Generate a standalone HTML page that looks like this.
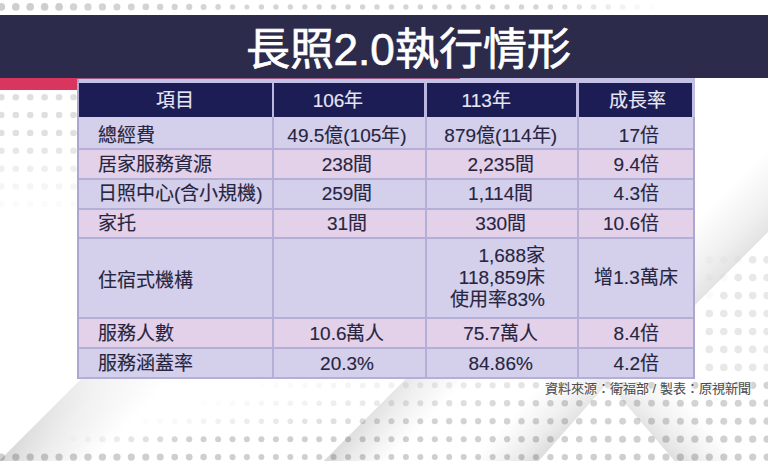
<!DOCTYPE html>
<html lang="zh-TW">
<head>
<meta charset="utf-8">
<style>
html,body{margin:0;padding:0;}
body{width:768px;height:461px;position:relative;overflow:hidden;background:#fff;font-family:"Liberation Sans",sans-serif;}
.a{position:absolute;}
#bg{position:absolute;left:0;top:0;}
#banner{position:absolute;left:0;top:15px;width:768px;height:63px;background:#2d2b4b;}
#title{position:absolute;left:245.5px;top:25px;line-height:50px;white-space:nowrap;color:#fff;font-size:44px;-webkit-text-stroke:0.7px #fff;}
#red{position:absolute;left:0;top:78px;width:460px;height:12px;background:#d8365f;}
#tbl{position:absolute;left:77px;top:79px;width:618px;height:300px;background:#b4afd7;}
#tbt{position:absolute;left:77px;top:78px;width:618px;height:5px;background:#c6c1e6;}
#tbr{position:absolute;left:77px;top:78px;width:383px;height:1px;background:#9a5a86;}
#hbr{position:absolute;left:692px;top:78px;width:3px;height:39px;background:#c2bde4;}
.bd{position:absolute;top:79px;width:2px;height:300px;background:#aca7cf;}
#hdr{position:absolute;left:79px;top:83px;width:613px;height:34px;background:#1c1d55;}
.hs{position:absolute;top:83px;height:34px;background:#bcb7e1;}
.lv{background:#d4d0ec;}
.pk{background:#e3d1ea;}
.t{position:absolute;font-size:19px;line-height:22px;color:#27253f;white-space:nowrap;-webkit-text-stroke:0.15px #27253f;}
#src{position:absolute;left:545px;top:381px;font-size:13px;line-height:16px;color:#4e4e4e;white-space:nowrap;-webkit-text-stroke:0.1px #4e4e4e;text-shadow:0 0 3px #fff,0 0 3px #fff,0 0 2px #fff;}
</style>
</head>
<body>
<svg id="bg" width="768" height="461" viewBox="0 0 768 461"><defs><filter id="bl" x="-5%" y="-5%" width="110%" height="110%"><feGaussianBlur stdDeviation="0.7"/></filter><linearGradient id="g1" gradientUnits="userSpaceOnUse" x1="40.0" y1="420.0" x2="86.0" y2="466.0"><stop offset="0" stop-color="#000" stop-opacity="0.16"/><stop offset="0.35" stop-color="#000" stop-opacity="0.088"/><stop offset="1" stop-color="#000" stop-opacity="0"/></linearGradient><linearGradient id="g1m" gradientUnits="userSpaceOnUse" x1="0" y1="378" x2="0" y2="461"><stop offset="0" stop-color="#fff" stop-opacity="0.4"/><stop offset="1" stop-color="#fff" stop-opacity="1"/></linearGradient><mask id="g1k" maskUnits="userSpaceOnUse" x="0" y="0" width="768" height="461"><rect x="0" y="0" width="768" height="461" fill="url(#g1m)"/></mask><linearGradient id="g2" gradientUnits="userSpaceOnUse" x1="365.2" y1="419.5" x2="397.0" y2="451.3"><stop offset="0" stop-color="#000" stop-opacity="0.15"/><stop offset="0.35" stop-color="#000" stop-opacity="0.083"/><stop offset="1" stop-color="#000" stop-opacity="0"/></linearGradient><linearGradient id="g2m" gradientUnits="userSpaceOnUse" x1="0" y1="378" x2="0" y2="461"><stop offset="0" stop-color="#fff" stop-opacity="0.6"/><stop offset="1" stop-color="#fff" stop-opacity="1"/></linearGradient><mask id="g2k" maskUnits="userSpaceOnUse" x="0" y="0" width="768" height="461"><rect x="0" y="0" width="768" height="461" fill="url(#g2m)"/></mask><linearGradient id="g3" gradientUnits="userSpaceOnUse" x1="567.9" y1="428.0" x2="530.4" y2="394.9"><stop offset="0" stop-color="#000" stop-opacity="0.14"/><stop offset="0.35" stop-color="#000" stop-opacity="0.077"/><stop offset="1" stop-color="#000" stop-opacity="0"/></linearGradient><linearGradient id="g3m" gradientUnits="userSpaceOnUse" x1="0" y1="378" x2="0" y2="461"><stop offset="0" stop-color="#fff" stop-opacity="0.6"/><stop offset="1" stop-color="#fff" stop-opacity="1"/></linearGradient><mask id="g3k" maskUnits="userSpaceOnUse" x="0" y="0" width="768" height="461"><rect x="0" y="0" width="768" height="461" fill="url(#g3m)"/></mask><linearGradient id="g4" gradientUnits="userSpaceOnUse" x1="646.3" y1="428.0" x2="684.2" y2="395.4"><stop offset="0" stop-color="#000" stop-opacity="0.13"/><stop offset="0.35" stop-color="#000" stop-opacity="0.072"/><stop offset="1" stop-color="#000" stop-opacity="0"/></linearGradient><linearGradient id="g4m" gradientUnits="userSpaceOnUse" x1="0" y1="382" x2="0" y2="461"><stop offset="0" stop-color="#fff" stop-opacity="0.6"/><stop offset="1" stop-color="#fff" stop-opacity="1"/></linearGradient><mask id="g4k" maskUnits="userSpaceOnUse" x="0" y="0" width="768" height="461"><rect x="0" y="0" width="768" height="461" fill="url(#g4m)"/></mask><linearGradient id="g5" gradientUnits="userSpaceOnUse" x1="735.0" y1="265.0" x2="692.6" y2="222.6"><stop offset="0" stop-color="#000" stop-opacity="0.11"/><stop offset="0.35" stop-color="#000" stop-opacity="0.061"/><stop offset="1" stop-color="#000" stop-opacity="0"/></linearGradient></defs><g fill="#cbcbcb" filter="url(#bl)"><circle cx="1.3" cy="6.9" r="3.8" fill-opacity="0.95"/><circle cx="15.8" cy="6.9" r="3.8" fill-opacity="0.95"/><circle cx="30.2" cy="6.9" r="3.8" fill-opacity="0.95"/><circle cx="44.6" cy="6.9" r="3.8" fill-opacity="0.95"/><circle cx="59.1" cy="6.9" r="3.8" fill-opacity="0.95"/><circle cx="73.5" cy="6.9" r="3.7" fill-opacity="0.85"/><circle cx="88.0" cy="6.9" r="3.6" fill-opacity="0.85"/><circle cx="102.4" cy="6.9" r="3.6" fill-opacity="0.85"/><circle cx="116.9" cy="6.9" r="3.5" fill-opacity="0.85"/><circle cx="131.3" cy="6.9" r="3.4" fill-opacity="0.85"/><circle cx="145.8" cy="6.9" r="3.3" fill-opacity="0.85"/><circle cx="160.2" cy="6.9" r="3.2" fill-opacity="0.85"/><circle cx="174.7" cy="6.9" r="3.1" fill-opacity="0.85"/><circle cx="189.2" cy="6.9" r="3.1" fill-opacity="0.85"/><circle cx="203.6" cy="6.9" r="3.0" fill-opacity="0.80"/><circle cx="218.1" cy="6.9" r="2.8" fill-opacity="0.80"/><circle cx="232.5" cy="6.9" r="2.7" fill-opacity="0.80"/><circle cx="246.9" cy="6.9" r="2.5" fill-opacity="0.80"/><circle cx="261.4" cy="6.9" r="2.7" fill-opacity="0.80"/><circle cx="275.9" cy="6.9" r="2.7" fill-opacity="0.80"/><circle cx="290.3" cy="6.9" r="2.7" fill-opacity="0.80"/><circle cx="304.8" cy="6.9" r="2.7" fill-opacity="0.80"/><circle cx="319.2" cy="6.9" r="2.7" fill-opacity="0.80"/><circle cx="333.6" cy="6.9" r="2.7" fill-opacity="0.80"/><circle cx="348.1" cy="6.9" r="2.7" fill-opacity="0.80"/><circle cx="362.6" cy="6.9" r="2.7" fill-opacity="0.80"/><circle cx="377.0" cy="6.9" r="2.7" fill-opacity="0.80"/><circle cx="391.4" cy="6.9" r="2.7" fill-opacity="0.80"/><circle cx="405.9" cy="6.9" r="2.7" fill-opacity="0.80"/><circle cx="420.3" cy="6.9" r="2.7" fill-opacity="0.80"/><circle cx="434.8" cy="6.9" r="2.7" fill-opacity="0.80"/><circle cx="449.2" cy="6.9" r="2.7" fill-opacity="0.80"/><circle cx="463.7" cy="6.9" r="2.7" fill-opacity="0.80"/><circle cx="478.1" cy="6.9" r="2.7" fill-opacity="0.80"/><circle cx="492.6" cy="6.9" r="2.7" fill-opacity="0.80"/><circle cx="507.1" cy="6.9" r="2.7" fill-opacity="0.80"/><circle cx="521.5" cy="6.9" r="2.7" fill-opacity="0.80"/><circle cx="535.9" cy="6.9" r="2.7" fill-opacity="0.80"/><circle cx="550.4" cy="6.9" r="2.7" fill-opacity="0.76"/><circle cx="564.8" cy="6.9" r="2.7" fill-opacity="0.66"/><circle cx="579.3" cy="6.9" r="2.7" fill-opacity="0.56"/><circle cx="593.7" cy="6.9" r="2.7" fill-opacity="0.46"/><circle cx="608.2" cy="6.9" r="2.7" fill-opacity="0.36"/><circle cx="622.6" cy="6.9" r="2.7" fill-opacity="0.26"/><circle cx="637.1" cy="6.9" r="2.7" fill-opacity="0.16"/><circle cx="651.5" cy="6.9" r="2.7" fill-opacity="0.06"/><circle cx="1.3" cy="97.3" r="3.3" fill-opacity="0.62"/><circle cx="15.8" cy="97.3" r="3.3" fill-opacity="0.62"/><circle cx="30.2" cy="97.3" r="3.3" fill-opacity="0.62"/><circle cx="44.6" cy="97.3" r="3.3" fill-opacity="0.62"/><circle cx="59.1" cy="97.3" r="3.3" fill-opacity="0.62"/><circle cx="73.5" cy="97.3" r="3.3" fill-opacity="0.62"/><circle cx="1.3" cy="115.0" r="3.3" fill-opacity="0.62"/><circle cx="15.8" cy="115.0" r="3.3" fill-opacity="0.62"/><circle cx="30.2" cy="115.0" r="3.3" fill-opacity="0.62"/><circle cx="44.6" cy="115.0" r="3.3" fill-opacity="0.62"/><circle cx="59.1" cy="115.0" r="3.3" fill-opacity="0.62"/><circle cx="73.5" cy="115.0" r="3.3" fill-opacity="0.62"/><circle cx="1.3" cy="133.0" r="3.3" fill-opacity="0.59"/><circle cx="15.8" cy="133.0" r="3.3" fill-opacity="0.59"/><circle cx="30.2" cy="133.0" r="3.3" fill-opacity="0.59"/><circle cx="44.6" cy="133.0" r="3.3" fill-opacity="0.59"/><circle cx="59.1" cy="133.0" r="3.3" fill-opacity="0.59"/><circle cx="73.5" cy="133.0" r="3.3" fill-opacity="0.59"/><circle cx="1.3" cy="150.8" r="3.3" fill-opacity="0.46"/><circle cx="15.8" cy="150.8" r="3.3" fill-opacity="0.46"/><circle cx="30.2" cy="150.8" r="3.3" fill-opacity="0.46"/><circle cx="44.6" cy="150.8" r="3.3" fill-opacity="0.46"/><circle cx="59.1" cy="150.8" r="3.3" fill-opacity="0.46"/><circle cx="73.5" cy="150.8" r="3.3" fill-opacity="0.46"/><circle cx="1.3" cy="168.8" r="3.3" fill-opacity="0.31"/><circle cx="15.8" cy="168.8" r="3.3" fill-opacity="0.31"/><circle cx="30.2" cy="168.8" r="3.3" fill-opacity="0.31"/><circle cx="44.6" cy="168.8" r="3.3" fill-opacity="0.31"/><circle cx="59.1" cy="168.8" r="3.3" fill-opacity="0.31"/><circle cx="73.5" cy="168.8" r="3.3" fill-opacity="0.31"/><circle cx="1.3" cy="186.5" r="3.3" fill-opacity="0.19"/><circle cx="15.8" cy="186.5" r="3.3" fill-opacity="0.19"/><circle cx="30.2" cy="186.5" r="3.3" fill-opacity="0.19"/><circle cx="44.6" cy="186.5" r="3.3" fill-opacity="0.19"/><circle cx="59.1" cy="186.5" r="3.3" fill-opacity="0.19"/><circle cx="73.5" cy="186.5" r="3.3" fill-opacity="0.19"/><circle cx="1.3" cy="203.7" r="3.3" fill-opacity="0.08"/><circle cx="15.8" cy="203.7" r="3.3" fill-opacity="0.08"/><circle cx="30.2" cy="203.7" r="3.3" fill-opacity="0.08"/><circle cx="44.6" cy="203.7" r="3.3" fill-opacity="0.08"/><circle cx="59.1" cy="203.7" r="3.3" fill-opacity="0.08"/><circle cx="73.5" cy="203.7" r="3.3" fill-opacity="0.08"/><circle cx="1.3" cy="457.1" r="3.7" fill-opacity="0.92"/><circle cx="15.8" cy="457.1" r="3.7" fill-opacity="0.92"/><circle cx="30.2" cy="457.1" r="3.7" fill-opacity="0.92"/><circle cx="44.6" cy="457.1" r="3.7" fill-opacity="0.92"/><circle cx="59.1" cy="457.1" r="3.7" fill-opacity="0.92"/><circle cx="73.5" cy="457.1" r="3.7" fill-opacity="0.92"/><circle cx="88.0" cy="457.1" r="3.7" fill-opacity="0.92"/><circle cx="102.4" cy="457.1" r="3.7" fill-opacity="0.92"/><circle cx="116.9" cy="457.1" r="3.7" fill-opacity="0.92"/><circle cx="131.3" cy="457.1" r="3.6" fill-opacity="0.92"/><circle cx="145.8" cy="457.1" r="3.6" fill-opacity="0.92"/><circle cx="160.2" cy="457.1" r="3.5" fill-opacity="0.92"/><circle cx="174.7" cy="457.1" r="3.4" fill-opacity="0.92"/><circle cx="189.2" cy="457.1" r="3.4" fill-opacity="0.92"/><circle cx="203.6" cy="457.1" r="3.3" fill-opacity="0.92"/><circle cx="218.1" cy="457.1" r="3.2" fill-opacity="0.92"/><circle cx="232.5" cy="457.1" r="3.1" fill-opacity="0.92"/><circle cx="246.9" cy="457.1" r="3.1" fill-opacity="0.92"/><circle cx="261.4" cy="457.1" r="3.0" fill-opacity="0.92"/><circle cx="275.9" cy="457.1" r="3.0" fill-opacity="0.92"/><circle cx="290.3" cy="457.1" r="3.0" fill-opacity="0.92"/><circle cx="304.8" cy="457.1" r="3.0" fill-opacity="0.92"/><circle cx="319.2" cy="457.1" r="3.0" fill-opacity="0.92"/><circle cx="333.6" cy="457.1" r="3.0" fill-opacity="0.92"/><circle cx="348.1" cy="457.1" r="3.0" fill-opacity="0.92"/><circle cx="362.6" cy="457.1" r="3.0" fill-opacity="0.92"/><circle cx="377.0" cy="457.1" r="3.0" fill-opacity="0.92"/><circle cx="391.4" cy="457.1" r="3.0" fill-opacity="0.92"/><circle cx="405.9" cy="457.1" r="3.0" fill-opacity="0.92"/><circle cx="420.3" cy="457.1" r="3.0" fill-opacity="0.92"/><circle cx="434.8" cy="457.1" r="3.0" fill-opacity="0.92"/><circle cx="449.2" cy="457.1" r="3.0" fill-opacity="0.92"/><circle cx="463.7" cy="457.1" r="3.0" fill-opacity="0.92"/><circle cx="478.1" cy="457.1" r="3.0" fill-opacity="0.92"/><circle cx="492.6" cy="457.1" r="3.0" fill-opacity="0.92"/><circle cx="507.1" cy="457.1" r="3.0" fill-opacity="0.92"/><circle cx="521.5" cy="457.1" r="3.1" fill-opacity="0.92"/><circle cx="535.9" cy="457.1" r="3.1" fill-opacity="0.92"/><circle cx="550.4" cy="457.1" r="3.2" fill-opacity="0.92"/><circle cx="564.8" cy="457.1" r="3.2" fill-opacity="0.92"/><circle cx="579.3" cy="457.1" r="3.3" fill-opacity="0.92"/><circle cx="593.7" cy="457.1" r="3.3" fill-opacity="0.92"/><circle cx="608.2" cy="457.1" r="3.4" fill-opacity="0.92"/><circle cx="622.6" cy="457.1" r="3.4" fill-opacity="0.92"/><circle cx="637.1" cy="457.1" r="3.5" fill-opacity="0.92"/><circle cx="651.5" cy="457.1" r="3.5" fill-opacity="0.92"/><circle cx="666.0" cy="457.1" r="3.6" fill-opacity="0.92"/><circle cx="680.4" cy="457.1" r="3.6" fill-opacity="0.92"/><circle cx="694.9" cy="457.1" r="3.6" fill-opacity="0.92"/><circle cx="709.3" cy="457.1" r="3.6" fill-opacity="0.92"/><circle cx="723.8" cy="457.1" r="3.6" fill-opacity="0.92"/><circle cx="738.2" cy="457.1" r="3.6" fill-opacity="0.92"/><circle cx="752.7" cy="457.1" r="3.6" fill-opacity="0.92"/><circle cx="767.1" cy="457.1" r="3.6" fill-opacity="0.92"/><circle cx="73.5" cy="439.2" r="3.0" fill-opacity="0.06"/><circle cx="88.0" cy="439.2" r="3.0" fill-opacity="0.17"/><circle cx="102.4" cy="439.2" r="3.0" fill-opacity="0.27"/><circle cx="116.9" cy="439.2" r="3.0" fill-opacity="0.37"/><circle cx="131.3" cy="439.2" r="3.0" fill-opacity="0.48"/><circle cx="145.8" cy="439.2" r="3.0" fill-opacity="0.58"/><circle cx="160.2" cy="439.2" r="3.0" fill-opacity="0.69"/><circle cx="174.7" cy="439.2" r="3.0" fill-opacity="0.79"/><circle cx="189.2" cy="439.2" r="3.0" fill-opacity="0.89"/><circle cx="203.6" cy="439.2" r="3.0" fill-opacity="0.90"/><circle cx="218.1" cy="439.2" r="3.0" fill-opacity="0.90"/><circle cx="232.5" cy="439.2" r="3.0" fill-opacity="0.90"/><circle cx="246.9" cy="439.2" r="3.0" fill-opacity="0.90"/><circle cx="261.4" cy="439.2" r="3.0" fill-opacity="0.90"/><circle cx="275.9" cy="439.2" r="3.0" fill-opacity="0.90"/><circle cx="290.3" cy="439.2" r="3.0" fill-opacity="0.90"/><circle cx="304.8" cy="439.2" r="3.0" fill-opacity="0.90"/><circle cx="319.2" cy="439.2" r="3.0" fill-opacity="0.90"/><circle cx="333.6" cy="439.2" r="3.0" fill-opacity="0.90"/><circle cx="348.1" cy="439.2" r="3.0" fill-opacity="0.90"/><circle cx="362.6" cy="439.2" r="3.0" fill-opacity="0.90"/><circle cx="377.0" cy="439.2" r="3.0" fill-opacity="0.90"/><circle cx="391.4" cy="439.2" r="3.0" fill-opacity="0.90"/><circle cx="405.9" cy="439.2" r="3.0" fill-opacity="0.90"/><circle cx="420.3" cy="439.2" r="3.0" fill-opacity="0.90"/><circle cx="434.8" cy="439.2" r="3.0" fill-opacity="0.90"/><circle cx="449.2" cy="439.2" r="3.0" fill-opacity="0.90"/><circle cx="463.7" cy="439.2" r="3.0" fill-opacity="0.90"/><circle cx="478.1" cy="439.2" r="3.1" fill-opacity="0.90"/><circle cx="492.6" cy="439.2" r="3.1" fill-opacity="0.90"/><circle cx="507.1" cy="439.2" r="3.1" fill-opacity="0.90"/><circle cx="521.5" cy="439.2" r="3.2" fill-opacity="0.90"/><circle cx="535.9" cy="439.2" r="3.2" fill-opacity="0.90"/><circle cx="550.4" cy="439.2" r="3.3" fill-opacity="0.90"/><circle cx="564.8" cy="439.2" r="3.3" fill-opacity="0.90"/><circle cx="579.3" cy="439.2" r="3.3" fill-opacity="0.90"/><circle cx="593.7" cy="439.2" r="3.4" fill-opacity="0.90"/><circle cx="608.2" cy="439.2" r="3.4" fill-opacity="0.90"/><circle cx="622.6" cy="439.2" r="3.5" fill-opacity="0.90"/><circle cx="637.1" cy="439.2" r="3.5" fill-opacity="0.90"/><circle cx="651.5" cy="439.2" r="3.5" fill-opacity="0.90"/><circle cx="666.0" cy="439.2" r="3.6" fill-opacity="0.90"/><circle cx="680.4" cy="439.2" r="3.6" fill-opacity="0.90"/><circle cx="694.9" cy="439.2" r="3.6" fill-opacity="0.90"/><circle cx="709.3" cy="439.2" r="3.6" fill-opacity="0.90"/><circle cx="723.8" cy="439.2" r="3.6" fill-opacity="0.90"/><circle cx="738.2" cy="439.2" r="3.6" fill-opacity="0.90"/><circle cx="752.7" cy="439.2" r="3.6" fill-opacity="0.90"/><circle cx="767.1" cy="439.2" r="3.6" fill-opacity="0.90"/><circle cx="145.8" cy="421.2" r="2.8" fill-opacity="0.06"/><circle cx="160.2" cy="421.2" r="2.8" fill-opacity="0.10"/><circle cx="174.7" cy="421.2" r="2.8" fill-opacity="0.14"/><circle cx="189.2" cy="421.2" r="2.8" fill-opacity="0.18"/><circle cx="203.6" cy="421.2" r="2.8" fill-opacity="0.23"/><circle cx="218.1" cy="421.2" r="2.8" fill-opacity="0.27"/><circle cx="232.5" cy="421.2" r="2.8" fill-opacity="0.31"/><circle cx="246.9" cy="421.2" r="2.8" fill-opacity="0.35"/><circle cx="261.4" cy="421.2" r="2.8" fill-opacity="0.39"/><circle cx="275.9" cy="421.2" r="2.8" fill-opacity="0.43"/><circle cx="290.3" cy="421.2" r="2.8" fill-opacity="0.48"/><circle cx="304.8" cy="421.2" r="2.8" fill-opacity="0.52"/><circle cx="319.2" cy="421.2" r="2.8" fill-opacity="0.56"/><circle cx="333.6" cy="421.2" r="2.9" fill-opacity="0.60"/><circle cx="348.1" cy="421.2" r="2.9" fill-opacity="0.64"/><circle cx="362.6" cy="421.2" r="2.9" fill-opacity="0.68"/><circle cx="377.0" cy="421.2" r="2.9" fill-opacity="0.73"/><circle cx="391.4" cy="421.2" r="3.0" fill-opacity="0.77"/><circle cx="405.9" cy="421.2" r="3.0" fill-opacity="0.81"/><circle cx="420.3" cy="421.2" r="3.0" fill-opacity="0.85"/><circle cx="434.8" cy="421.2" r="3.0" fill-opacity="0.85"/><circle cx="449.2" cy="421.2" r="3.1" fill-opacity="0.85"/><circle cx="463.7" cy="421.2" r="3.1" fill-opacity="0.85"/><circle cx="478.1" cy="421.2" r="3.1" fill-opacity="0.85"/><circle cx="492.6" cy="421.2" r="3.1" fill-opacity="0.85"/><circle cx="507.1" cy="421.2" r="3.2" fill-opacity="0.85"/><circle cx="521.5" cy="421.2" r="3.2" fill-opacity="0.85"/><circle cx="535.9" cy="421.2" r="3.2" fill-opacity="0.85"/><circle cx="550.4" cy="421.2" r="3.2" fill-opacity="0.85"/><circle cx="564.8" cy="421.2" r="3.3" fill-opacity="0.85"/><circle cx="579.3" cy="421.2" r="3.3" fill-opacity="0.85"/><circle cx="593.7" cy="421.2" r="3.3" fill-opacity="0.85"/><circle cx="608.2" cy="421.2" r="3.3" fill-opacity="0.85"/><circle cx="622.6" cy="421.2" r="3.4" fill-opacity="0.85"/><circle cx="637.1" cy="421.2" r="3.4" fill-opacity="0.85"/><circle cx="651.5" cy="421.2" r="3.4" fill-opacity="0.85"/><circle cx="666.0" cy="421.2" r="3.4" fill-opacity="0.85"/><circle cx="680.4" cy="421.2" r="3.5" fill-opacity="0.85"/><circle cx="694.9" cy="421.2" r="3.5" fill-opacity="0.85"/><circle cx="709.3" cy="421.2" r="3.5" fill-opacity="0.85"/><circle cx="723.8" cy="421.2" r="3.5" fill-opacity="0.85"/><circle cx="738.2" cy="421.2" r="3.5" fill-opacity="0.85"/><circle cx="752.7" cy="421.2" r="3.6" fill-opacity="0.85"/><circle cx="767.1" cy="421.2" r="3.6" fill-opacity="0.85"/><circle cx="203.6" cy="403.2" r="2.8" fill-opacity="0.03"/><circle cx="218.1" cy="403.2" r="2.8" fill-opacity="0.06"/><circle cx="232.5" cy="403.2" r="2.8" fill-opacity="0.10"/><circle cx="246.9" cy="403.2" r="2.8" fill-opacity="0.13"/><circle cx="261.4" cy="403.2" r="2.8" fill-opacity="0.16"/><circle cx="275.9" cy="403.2" r="2.8" fill-opacity="0.20"/><circle cx="290.3" cy="403.2" r="2.8" fill-opacity="0.23"/><circle cx="304.8" cy="403.2" r="2.8" fill-opacity="0.26"/><circle cx="319.2" cy="403.2" r="2.8" fill-opacity="0.30"/><circle cx="333.6" cy="403.2" r="2.9" fill-opacity="0.33"/><circle cx="348.1" cy="403.2" r="2.9" fill-opacity="0.36"/><circle cx="362.6" cy="403.2" r="2.9" fill-opacity="0.40"/><circle cx="377.0" cy="403.2" r="2.9" fill-opacity="0.43"/><circle cx="391.4" cy="403.2" r="3.0" fill-opacity="0.46"/><circle cx="405.9" cy="403.2" r="3.0" fill-opacity="0.50"/><circle cx="420.3" cy="403.2" r="3.0" fill-opacity="0.53"/><circle cx="434.8" cy="403.2" r="3.0" fill-opacity="0.56"/><circle cx="449.2" cy="403.2" r="3.1" fill-opacity="0.60"/><circle cx="463.7" cy="403.2" r="3.1" fill-opacity="0.63"/><circle cx="478.1" cy="403.2" r="3.1" fill-opacity="0.66"/><circle cx="492.6" cy="403.2" r="3.1" fill-opacity="0.70"/><circle cx="507.1" cy="403.2" r="3.2" fill-opacity="0.73"/><circle cx="521.5" cy="403.2" r="3.2" fill-opacity="0.76"/><circle cx="535.9" cy="403.2" r="3.2" fill-opacity="0.79"/><circle cx="550.4" cy="403.2" r="3.2" fill-opacity="0.83"/><circle cx="564.8" cy="403.2" r="3.3" fill-opacity="0.85"/><circle cx="579.3" cy="403.2" r="3.3" fill-opacity="0.85"/><circle cx="593.7" cy="403.2" r="3.3" fill-opacity="0.85"/><circle cx="608.2" cy="403.2" r="3.3" fill-opacity="0.85"/><circle cx="622.6" cy="403.2" r="3.4" fill-opacity="0.85"/><circle cx="637.1" cy="403.2" r="3.4" fill-opacity="0.85"/><circle cx="651.5" cy="403.2" r="3.4" fill-opacity="0.85"/><circle cx="666.0" cy="403.2" r="3.4" fill-opacity="0.85"/><circle cx="680.4" cy="403.2" r="3.5" fill-opacity="0.85"/><circle cx="694.9" cy="403.2" r="3.5" fill-opacity="0.85"/><circle cx="709.3" cy="403.2" r="3.5" fill-opacity="0.85"/><circle cx="723.8" cy="403.2" r="3.5" fill-opacity="0.85"/><circle cx="738.2" cy="403.2" r="3.5" fill-opacity="0.85"/><circle cx="752.7" cy="403.2" r="3.6" fill-opacity="0.85"/><circle cx="767.1" cy="403.2" r="3.6" fill-opacity="0.85"/><circle cx="261.4" cy="385.3" r="2.8" fill-opacity="0.04"/><circle cx="275.9" cy="385.3" r="2.8" fill-opacity="0.07"/><circle cx="290.3" cy="385.3" r="2.8" fill-opacity="0.09"/><circle cx="304.8" cy="385.3" r="2.8" fill-opacity="0.12"/><circle cx="319.2" cy="385.3" r="2.8" fill-opacity="0.15"/><circle cx="333.6" cy="385.3" r="2.9" fill-opacity="0.17"/><circle cx="348.1" cy="385.3" r="2.9" fill-opacity="0.20"/><circle cx="362.6" cy="385.3" r="2.9" fill-opacity="0.23"/><circle cx="377.0" cy="385.3" r="2.9" fill-opacity="0.25"/><circle cx="391.4" cy="385.3" r="3.0" fill-opacity="0.28"/><circle cx="405.9" cy="385.3" r="3.0" fill-opacity="0.31"/><circle cx="420.3" cy="385.3" r="3.0" fill-opacity="0.33"/><circle cx="434.8" cy="385.3" r="3.0" fill-opacity="0.36"/><circle cx="449.2" cy="385.3" r="3.1" fill-opacity="0.39"/><circle cx="463.7" cy="385.3" r="3.1" fill-opacity="0.41"/><circle cx="478.1" cy="385.3" r="3.1" fill-opacity="0.44"/><circle cx="492.6" cy="385.3" r="3.1" fill-opacity="0.47"/><circle cx="507.1" cy="385.3" r="3.2" fill-opacity="0.49"/><circle cx="521.5" cy="385.3" r="3.2" fill-opacity="0.52"/><circle cx="535.9" cy="385.3" r="3.2" fill-opacity="0.55"/><circle cx="550.4" cy="385.3" r="3.2" fill-opacity="0.57"/><circle cx="564.8" cy="385.3" r="3.3" fill-opacity="0.60"/><circle cx="579.3" cy="385.3" r="3.3" fill-opacity="0.63"/><circle cx="593.7" cy="385.3" r="3.3" fill-opacity="0.65"/><circle cx="608.2" cy="385.3" r="3.3" fill-opacity="0.68"/><circle cx="622.6" cy="385.3" r="3.4" fill-opacity="0.71"/><circle cx="637.1" cy="385.3" r="3.4" fill-opacity="0.73"/><circle cx="651.5" cy="385.3" r="3.4" fill-opacity="0.76"/><circle cx="666.0" cy="385.3" r="3.4" fill-opacity="0.79"/><circle cx="680.4" cy="385.3" r="3.5" fill-opacity="0.81"/><circle cx="694.9" cy="385.3" r="3.5" fill-opacity="0.84"/><circle cx="709.3" cy="385.3" r="3.5" fill-opacity="0.85"/><circle cx="723.8" cy="385.3" r="3.5" fill-opacity="0.85"/><circle cx="738.2" cy="385.3" r="3.5" fill-opacity="0.85"/><circle cx="752.7" cy="385.3" r="3.6" fill-opacity="0.85"/><circle cx="767.1" cy="385.3" r="3.6" fill-opacity="0.85"/><circle cx="709.3" cy="367.4" r="3.8" fill-opacity="0.45"/><circle cx="723.8" cy="367.4" r="3.8" fill-opacity="0.45"/><circle cx="738.2" cy="367.4" r="3.8" fill-opacity="0.45"/><circle cx="752.7" cy="367.4" r="3.8" fill-opacity="0.45"/><circle cx="767.1" cy="367.4" r="3.8" fill-opacity="0.45"/><circle cx="709.3" cy="349.4" r="3.8" fill-opacity="0.45"/><circle cx="723.8" cy="349.4" r="3.8" fill-opacity="0.45"/><circle cx="738.2" cy="349.4" r="3.8" fill-opacity="0.45"/><circle cx="752.7" cy="349.4" r="3.8" fill-opacity="0.45"/><circle cx="767.1" cy="349.4" r="3.8" fill-opacity="0.45"/><circle cx="709.3" cy="331.5" r="3.8" fill-opacity="0.45"/><circle cx="723.8" cy="331.5" r="3.8" fill-opacity="0.45"/><circle cx="738.2" cy="331.5" r="3.8" fill-opacity="0.45"/><circle cx="752.7" cy="331.5" r="3.8" fill-opacity="0.45"/><circle cx="767.1" cy="331.5" r="3.8" fill-opacity="0.45"/><circle cx="709.3" cy="313.5" r="3.8" fill-opacity="0.45"/><circle cx="723.8" cy="313.5" r="3.8" fill-opacity="0.45"/><circle cx="738.2" cy="313.5" r="3.8" fill-opacity="0.45"/><circle cx="752.7" cy="313.5" r="3.8" fill-opacity="0.45"/><circle cx="767.1" cy="313.5" r="3.8" fill-opacity="0.45"/><circle cx="709.3" cy="295.6" r="3.8" fill-opacity="0.10"/><circle cx="723.8" cy="295.6" r="3.8" fill-opacity="0.45"/><circle cx="738.2" cy="295.6" r="3.8" fill-opacity="0.45"/><circle cx="752.7" cy="295.6" r="3.8" fill-opacity="0.45"/><circle cx="767.1" cy="295.6" r="3.8" fill-opacity="0.45"/><circle cx="709.3" cy="277.6" r="3.8" fill-opacity="0.10"/><circle cx="723.8" cy="277.6" r="3.8" fill-opacity="0.10"/><circle cx="738.2" cy="277.6" r="3.8" fill-opacity="0.45"/><circle cx="752.7" cy="277.6" r="3.8" fill-opacity="0.45"/><circle cx="767.1" cy="277.6" r="3.8" fill-opacity="0.45"/><circle cx="709.3" cy="259.7" r="3.8" fill-opacity="0.10"/><circle cx="723.8" cy="259.7" r="3.8" fill-opacity="0.10"/><circle cx="738.2" cy="259.7" r="3.8" fill-opacity="0.10"/><circle cx="752.7" cy="259.7" r="3.8" fill-opacity="0.45"/><circle cx="767.1" cy="259.7" r="3.8" fill-opacity="0.45"/></g><polygon points="-1.0,461.0 82.0,378.0 240.0,378.0 157.0,461.0" fill="url(#g1)" mask="url(#g1k)"/><polygon points="323.7,461.0 406.7,378.0 540.0,378.0 457.0,461.0" fill="url(#g2)" mask="url(#g2k)"/><polygon points="538.7,461.0 612.0,378.0 512.0,378.0 438.7,461.0" fill="url(#g3)" mask="url(#g3k)"/><polygon points="606.8,382.0 674.6,461.0 780.0,461.0 780.0,382.0" fill="url(#g4)" mask="url(#g4k)"/><polygon points="695.0,305.0 770.0,230.0 770.0,120.0 695.0,120.0" fill="url(#g5)"/></svg>
<div id="banner"></div>
<div id="title">長照2.0執行情形</div>
<div id="red"></div>
<div id="tbl"></div>
<div id="tbt"></div>
<div id="tbr"></div>
<div class="bd" style="left:77px;"></div>
<div class="bd" style="left:693px;"></div>
<div id="hdr"></div>
<div id="hbr"></div>
<div class="hs" style="left:272px;width:2px;"></div>
<div class="hs" style="left:424px;width:3px;"></div>
<div class="hs" style="left:576px;width:3px;"></div>
<div class="a lv" style="left:79px;top:117px;width:193px;height:31px;"></div>
<div class="a lv" style="left:274px;top:117px;width:151px;height:31px;"></div>
<div class="a lv" style="left:427px;top:117px;width:150px;height:31px;"></div>
<div class="a lv" style="left:579px;top:117px;width:114px;height:31px;"></div>
<div class="a pk" style="left:79px;top:150px;width:193px;height:28px;"></div>
<div class="a pk" style="left:274px;top:150px;width:151px;height:28px;"></div>
<div class="a pk" style="left:427px;top:150px;width:150px;height:28px;"></div>
<div class="a pk" style="left:579px;top:150px;width:114px;height:28px;"></div>
<div class="a lv" style="left:79px;top:180px;width:193px;height:28px;"></div>
<div class="a lv" style="left:274px;top:180px;width:151px;height:28px;"></div>
<div class="a lv" style="left:427px;top:180px;width:150px;height:28px;"></div>
<div class="a lv" style="left:579px;top:180px;width:114px;height:28px;"></div>
<div class="a pk" style="left:79px;top:210px;width:193px;height:27px;"></div>
<div class="a pk" style="left:274px;top:210px;width:151px;height:27px;"></div>
<div class="a pk" style="left:427px;top:210px;width:150px;height:27px;"></div>
<div class="a pk" style="left:579px;top:210px;width:114px;height:27px;"></div>
<div class="a lv" style="left:79px;top:239px;width:193px;height:78px;"></div>
<div class="a lv" style="left:274px;top:239px;width:151px;height:78px;"></div>
<div class="a lv" style="left:427px;top:239px;width:150px;height:78px;"></div>
<div class="a lv" style="left:579px;top:239px;width:114px;height:78px;"></div>
<div class="a pk" style="left:79px;top:319px;width:193px;height:28px;"></div>
<div class="a pk" style="left:274px;top:319px;width:151px;height:28px;"></div>
<div class="a pk" style="left:427px;top:319px;width:150px;height:28px;"></div>
<div class="a pk" style="left:579px;top:319px;width:114px;height:28px;"></div>
<div class="a lv" style="left:79px;top:349px;width:193px;height:28px;"></div>
<div class="a lv" style="left:274px;top:349px;width:151px;height:28px;"></div>
<div class="a lv" style="left:427px;top:349px;width:150px;height:28px;"></div>
<div class="a lv" style="left:579px;top:349px;width:114px;height:28px;"></div>
<div class="t" style="left:75px;width:200px;text-align:center;top:90px;color:#e8e6f4;-webkit-text-stroke:0.15px #e8e6f4;">項目</div>
<div class="t" style="left:238px;width:200px;text-align:center;top:90px;color:#e8e6f4;-webkit-text-stroke:0.15px #e8e6f4;">106年</div>
<div class="t" style="left:386.2px;width:200px;text-align:center;top:90px;color:#e8e6f4;-webkit-text-stroke:0.15px #e8e6f4;">113年</div>
<div class="t" style="left:537px;width:200px;text-align:center;top:90px;color:#e8e6f4;-webkit-text-stroke:0.15px #e8e6f4;">成長率</div>
<div class="t" style="left:98px;top:124.5px;">總經費</div>
<div class="t" style="left:98px;top:154px;">居家服務資源</div>
<div class="t" style="left:98px;top:183px;">日照中心(含小規機)</div>
<div class="t" style="left:98px;top:212.5px;">家托</div>
<div class="t" style="left:98px;top:323px;">服務人數</div>
<div class="t" style="left:98px;top:353px;">服務涵蓋率</div>
<div class="t" style="left:98px;top:270px;">住宿式機構</div>
<div class="t" style="left:247px;width:200px;text-align:center;top:124.5px;">49.5億(105年)</div>
<div class="t" style="left:247px;width:200px;text-align:center;top:154px;">238間</div>
<div class="t" style="left:247px;width:200px;text-align:center;top:183px;">259間</div>
<div class="t" style="left:247px;width:200px;text-align:center;top:212.5px;">31間</div>
<div class="t" style="left:247px;width:200px;text-align:center;top:323px;">10.6萬人</div>
<div class="t" style="left:247px;width:200px;text-align:center;top:353px;">20.3%</div>
<div class="t" style="left:400.7px;width:200px;text-align:center;top:124.5px;">879億(114年)</div>
<div class="t" style="left:400.7px;width:200px;text-align:center;top:154px;">2,235間</div>
<div class="t" style="left:400.7px;width:200px;text-align:center;top:183px;">1,114間</div>
<div class="t" style="left:400.7px;width:200px;text-align:center;top:212.5px;">330間</div>
<div class="t" style="left:400.7px;width:200px;text-align:center;top:323px;">75.7萬人</div>
<div class="t" style="left:400.7px;width:200px;text-align:center;top:353px;">84.86%</div>
<div class="t" style="left:345px;width:200px;text-align:right;top:244.6px;line-height:22.4px;">1,688家<br>118,859床<br>使用率83%</div>
<div class="t" style="left:459px;width:200px;text-align:right;top:124.5px;">17倍</div>
<div class="t" style="left:459px;width:200px;text-align:right;top:154px;">9.4倍</div>
<div class="t" style="left:459px;width:200px;text-align:right;top:183px;">4.3倍</div>
<div class="t" style="left:459px;width:200px;text-align:right;top:212.5px;">10.6倍</div>
<div class="t" style="left:459px;width:200px;text-align:right;top:323px;">8.4倍</div>
<div class="t" style="left:459px;width:200px;text-align:right;top:353px;">4.2倍</div>
<div class="t" style="left:536px;width:200px;text-align:center;top:267px;">增1.3萬床</div>
<div id="src">資料來源：衛福部 / 製表：原視新聞</div>
</body>
</html>
